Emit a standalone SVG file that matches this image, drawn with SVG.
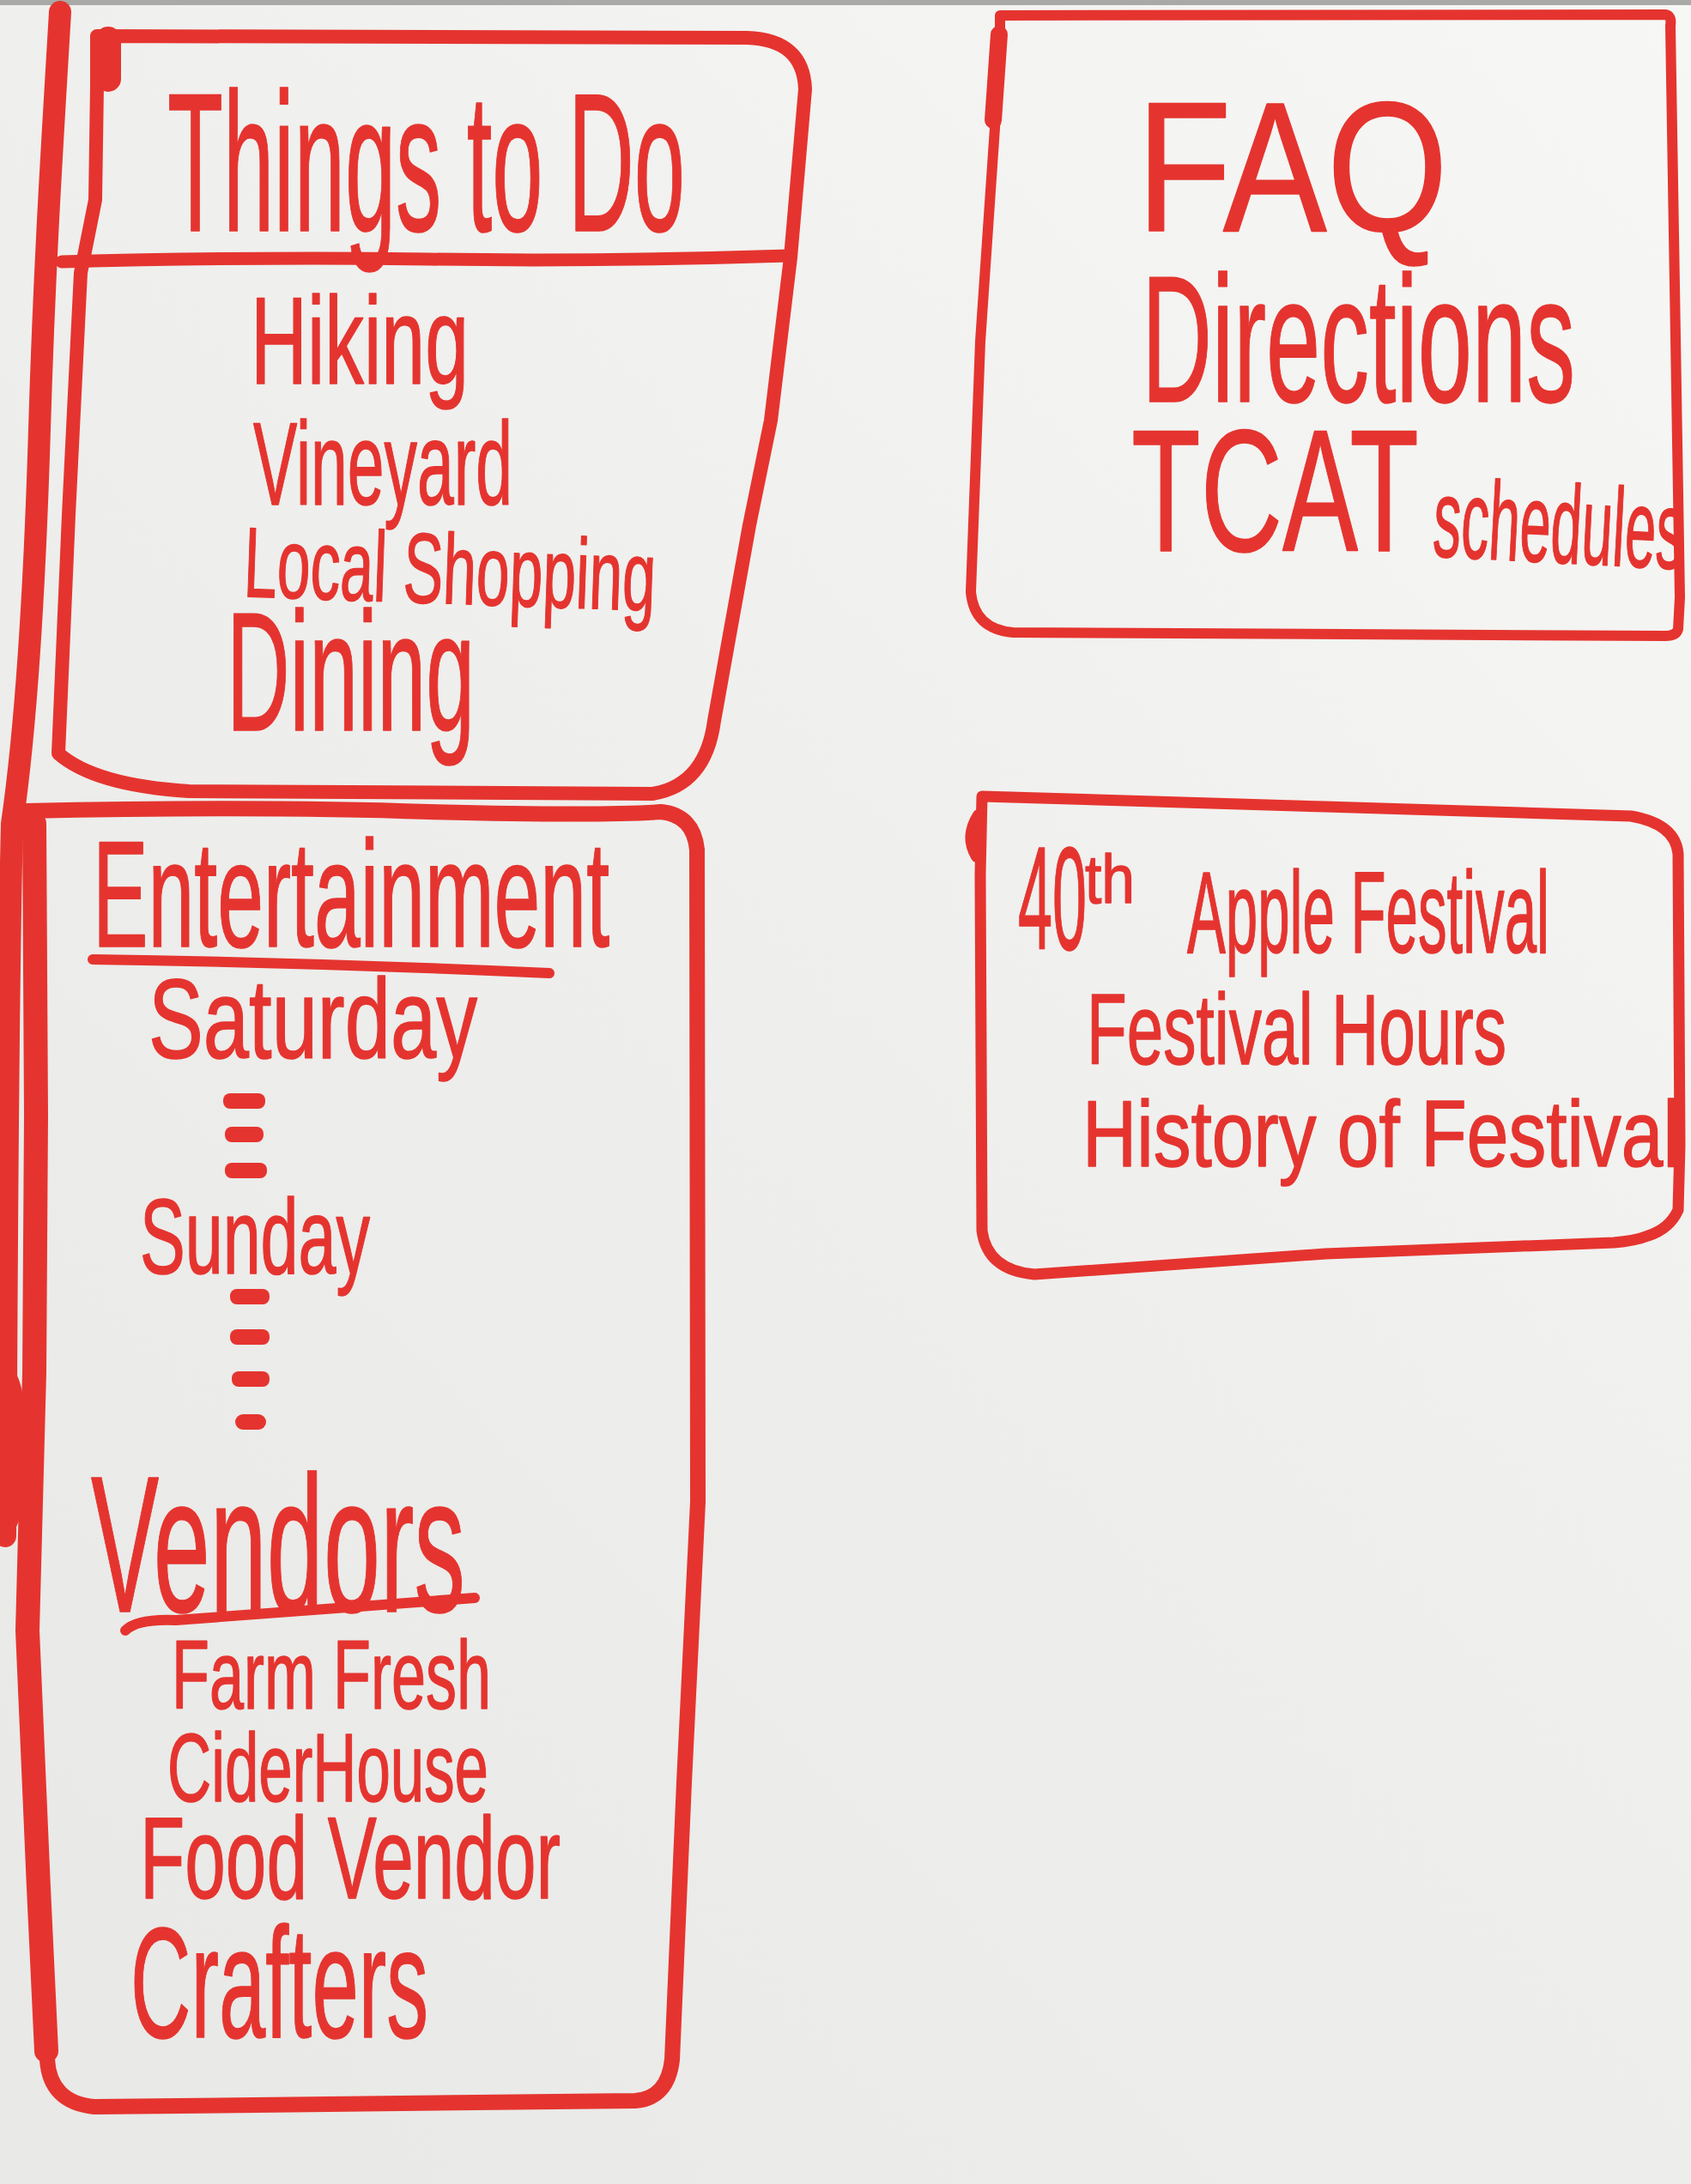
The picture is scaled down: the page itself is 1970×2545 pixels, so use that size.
<svg xmlns="http://www.w3.org/2000/svg" width="1970" height="2545" viewBox="0 0 1970 2545">
  <defs>
    <linearGradient id="boardShade" x1="1" y1="0" x2="0.2" y2="1">
      <stop offset="0" stop-color="#F7F7F5"/>
      <stop offset="0.5" stop-color="#EFEFED"/>
      <stop offset="1" stop-color="#E9E9E7"/>
    </linearGradient>
    <style>
      .ink { fill: none; stroke: #E5342F; stroke-linecap: round; stroke-linejoin: round; }
      .hw { font-family: "Liberation Sans Narrow", "Liberation Sans", "DejaVu Sans", sans-serif; fill: #E5342F; stroke: #E5342F; stroke-width: 1.5; stroke-linejoin: round; }
      .dash { fill: #E5342F; }
    </style>
  </defs>

  <!-- whiteboard surface -->
  <rect x="0" y="0" width="1970" height="2545" fill="url(#boardShade)"/>
  <rect x="0" y="0" width="1970" height="6" fill="#A9A9A7"/>

  <!-- left margin strokes -->
  <g id="margin-lines">
    <path class="ink" d="M 70,14 C 62,150 52,300 46,500 C 40,700 30,850 14,960 C 8,1200 8,1500 6,1790" stroke-width="26"/>
    <ellipse cx="12" cy="1690" rx="20" ry="95" fill="#E5342F"/>
  </g>

  <!-- Things to Do -->
  <g id="things-to-do">
    <path class="ink" stroke-width="16" d="M 113,42 L 870,44 Q 936,46 938,104 L 921,300 L 898,490 L 873,612 L 851,734 L 832,840 Q 822,915 760,925 L 220,922 Q 110,915 68,878 L 80,600 L 94,318 L 111,233 L 113,100 Z"/>
    <path class="ink" stroke-width="30" d="M 126,46 L 126,92"/>
    <path class="ink" stroke-width="15" d="M 72,305 Q 300,299 500,302 T 918,298"/>
    <text class="hw" x="195" y="269" font-size="230" textLength="603" lengthAdjust="spacingAndGlyphs">Things to Do</text>
    <text class="hw" x="292" y="447" font-size="145" textLength="254" lengthAdjust="spacingAndGlyphs">Hiking</text>
    <text class="hw" x="295" y="588" font-size="137" textLength="302" lengthAdjust="spacingAndGlyphs">Vineyard</text>
    <text class="hw" x="283" y="695" font-size="116" textLength="480" lengthAdjust="spacingAndGlyphs" transform="rotate(2 283 695)">Local Shopping</text>
    <text class="hw" x="264" y="851" font-size="197" textLength="289" lengthAdjust="spacingAndGlyphs">Dining</text>
  </g>

  <!-- FAQ -->
  <g id="faq">
    <path class="ink" stroke-width="12" d="M 1165,18 L 1940,17 Q 1948,18 1946,30 L 1957,696 L 1955,733 Q 1953,741 1940,741 L 1180,737 Q 1135,733 1131,690 L 1142,398 L 1159,149 L 1165,50 Z"/>
    <path class="ink" stroke-width="20" d="M 1164,40 L 1157,140"/>
    <text class="hw" x="1324" y="269" font-size="216" textLength="363" lengthAdjust="spacingAndGlyphs">FAQ</text>
    <text class="hw" x="1330" y="468" font-size="210" textLength="505" lengthAdjust="spacingAndGlyphs">Directions</text>
    <text class="hw" x="1318" y="642" font-size="203" textLength="335" lengthAdjust="spacingAndGlyphs">TCAT</text>
    <text class="hw" x="1668" y="648" font-size="130" textLength="292" lengthAdjust="spacingAndGlyphs" transform="rotate(3 1668 648)">schedules</text>
  </g>

  <!-- festival information -->
  <g id="festival-info">
    <path class="ink" stroke-width="13" d="M 1144,928 L 1544,940 L 1900,951 Q 1952,960 1955,995 L 1957,1335 L 1955,1410 Q 1945,1432 1920,1440 Q 1905,1446 1880,1448 L 1544,1461 L 1205,1485 Q 1150,1480 1144,1434 L 1142,1019 Z"/>
    <path class="ink" stroke-width="14" d="M 1140,950 Q 1124,975 1138,998"/>
    <text class="hw" x="1186" y="1106" font-size="170" textLength="80" lengthAdjust="spacingAndGlyphs">40</text>
    <text class="hw" x="1264" y="1052" font-size="80" textLength="58" lengthAdjust="spacingAndGlyphs">th</text>
    <text class="hw" x="1383" y="1110" font-size="135" textLength="422" lengthAdjust="spacingAndGlyphs">Apple Festival</text>
    <text class="hw" x="1266" y="1240" font-size="116" textLength="489" lengthAdjust="spacingAndGlyphs">Festival Hours</text>
    <text class="hw" x="1261" y="1359" font-size="110" textLength="696" lengthAdjust="spacingAndGlyphs">History of Festival</text>
  </g>

  <!-- Entertainment and Vendors -->
  <g id="entertainment-vendors">
    <path class="ink" stroke-width="18" d="M 30,945 Q 300,939 500,946 Q 700,951 770,946 Q 808,950 812,990 L 813,1750 L 797,2077 L 783,2400 Q 778,2445 740,2448 L 110,2455 Q 58,2450 55,2400 L 45,2200 L 32,1900 L 40,1600 L 42,1300 L 40,1000 Z"/>
    <path class="ink" stroke-width="28" d="M 40,960 L 42,1300 L 40,1600 L 32,1900 L 45,2200 L 54,2390"/>
    <text class="hw" x="108" y="1103" font-size="176" textLength="602" lengthAdjust="spacingAndGlyphs">Entertainment</text>
    <path class="ink" stroke-width="12" d="M 108,1118 Q 380,1122 640,1134"/>
    <text class="hw" x="173" y="1233" font-size="131" textLength="383" lengthAdjust="spacingAndGlyphs">Saturday</text>
    <g class="dash">
      <rect x="260" y="1274" width="49" height="18" rx="8"/>
      <rect x="262" y="1313" width="45" height="18" rx="8"/>
      <rect x="262" y="1355" width="49" height="18" rx="8"/>
    </g>
    <text class="hw" x="163" y="1484" font-size="124" textLength="268" lengthAdjust="spacingAndGlyphs">Sunday</text>
    <g class="dash">
      <rect x="268" y="1502" width="46" height="18" rx="8"/>
      <rect x="268" y="1549" width="46" height="18" rx="8"/>
      <rect x="270" y="1598" width="44" height="18" rx="8"/>
      <rect x="274" y="1648" width="36" height="18" rx="9"/>
    </g>
    <text class="hw" x="106" y="1878" font-size="226" textLength="436" lengthAdjust="spacingAndGlyphs">Vendors</text>
    <path class="ink" stroke-width="12" d="M 146,1900 Q 160,1886 205,1888 L 553,1862"/>
    <text class="hw" x="200" y="1991" font-size="113" textLength="372" lengthAdjust="spacingAndGlyphs">Farm Fresh</text>
    <text class="hw" x="195" y="2099" font-size="113" textLength="374" lengthAdjust="spacingAndGlyphs">CiderHouse</text>
    <text class="hw" x="163" y="2212" font-size="135" textLength="490" lengthAdjust="spacingAndGlyphs">Food Vendor</text>
    <text class="hw" x="152" y="2374" font-size="184" textLength="347" lengthAdjust="spacingAndGlyphs">Crafters</text>
  </g>
</svg>
